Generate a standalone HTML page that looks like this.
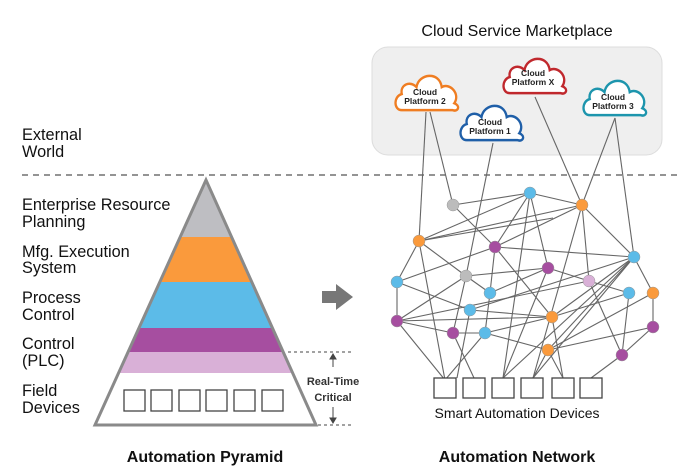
<!DOCTYPE html>
<html><head><meta charset="utf-8"><style>
body{margin:0;background:#fff;}
svg{display:block;font-family:"Liberation Sans",Arial,sans-serif;}
</style></head><body>
<svg width="700" height="474" viewBox="0 0 700 474" xmlns="http://www.w3.org/2000/svg">
<defs>
<path id="cl" d="M-24,14 C-32,14 -32,2 -24,0 C-26,-8 -16,-12 -10,-6 C-8,-18 12,-20 14,-6 C22,-10 32,0 26,8 C32,10 30,16 24,14 Z"/>
</defs>
<text x="517" y="36" font-size="16" text-anchor="middle" fill="#111">Cloud Service Marketplace</text>
<rect x="372" y="47" width="290" height="108" rx="16" fill="#efefef" stroke="#dcdcdc"/>
<g font-size="16.3" fill="#111">
<text x="22" y="140">External</text><text x="22" y="157">World</text>
<text x="22" y="210">Enterprise Resource</text><text x="22" y="227">Planning</text>
<text x="22" y="257">Mfg. Execution</text><text x="22" y="273">System</text>
<text x="22" y="303">Process</text><text x="22" y="320">Control</text>
<text x="22" y="349">Control</text><text x="22" y="366">(PLC)</text>
<text x="22" y="396">Field</text><text x="22" y="413">Devices</text>
</g>
<line x1="22" y1="175" x2="682" y2="175" stroke="#555" stroke-width="1.3" stroke-dasharray="6,5"/>
<defs><clipPath id="pc"><polygon points="206,180 95,425 316,425"/></clipPath></defs>
<g clip-path="url(#pc)">
<rect x="90" y="180" width="230" height="57" fill="#bebec2"/>
<rect x="90" y="237" width="230" height="45" fill="#fa9a3c"/>
<rect x="90" y="282" width="230" height="46" fill="#5cbbe8"/>
<rect x="90" y="328" width="230" height="24" fill="#a64ea0"/>
<rect x="90" y="352" width="230" height="21" fill="#d9b0d7"/>
<rect x="90" y="373" width="230" height="55" fill="#fff"/>
</g>
<polygon points="206,180 95,425 316,425" fill="none" stroke="#8a8a8a" stroke-width="3"/>
<g fill="none" stroke="#444" stroke-width="1.3">
<rect x="124" y="390" width="21" height="21"/><rect x="151" y="390" width="21" height="21"/><rect x="179" y="390" width="21" height="21"/><rect x="206" y="390" width="21" height="21"/><rect x="234" y="390" width="21" height="21"/><rect x="262" y="390" width="21" height="21"/>
</g>
<g stroke="#444" stroke-width="1" stroke-dasharray="3,3">
<line x1="288" y1="352" x2="352" y2="352"/><line x1="318" y1="425" x2="352" y2="425"/>
</g>
<g stroke="#444" stroke-width="1" fill="#444">
<line x1="333" y1="356" x2="333" y2="367"/><polygon points="333,354 330,359 336,359"/>
<line x1="333" y1="407" x2="333" y2="420"/><polygon points="333,423 330,418 336,418"/>
</g>
<text x="333" y="385" font-size="11" font-weight="bold" fill="#333" text-anchor="middle">Real-Time</text>
<text x="333" y="401" font-size="11" font-weight="bold" fill="#333" text-anchor="middle">Critical</text>
<polygon points="322,291 336,291 336,284 353,297 336,310 336,303 322,303" fill="#777"/>
<g stroke="#666" stroke-width="1.1">
<line x1="426" y1="112" x2="419" y2="241"/><line x1="430" y1="112" x2="453" y2="205"/>
<line x1="493" y1="143" x2="466" y2="276"/><line x1="535" y1="97" x2="582" y2="205"/>
<line x1="615" y1="118" x2="582" y2="205"/><line x1="615" y1="118" x2="634" y2="257"/>
<line x1="453" y1="205" x2="530" y2="193"/><line x1="453" y1="205" x2="495" y2="247"/>
<line x1="419" y1="241" x2="530" y2="193"/><line x1="419" y1="241" x2="582" y2="205"/>
<line x1="419" y1="241" x2="397" y2="282"/>
<line x1="419" y1="241" x2="466" y2="276"/><line x1="419" y1="241" x2="445" y2="380"/>
<line x1="419" y1="241" x2="553" y2="218"/>
<line x1="530" y1="193" x2="582" y2="205"/><line x1="530" y1="193" x2="495" y2="247"/>
<line x1="530" y1="193" x2="548" y2="268"/><line x1="530" y1="193" x2="503" y2="378"/>
<line x1="582" y1="205" x2="495" y2="247"/><line x1="582" y1="205" x2="589" y2="281"/>
<line x1="582" y1="205" x2="634" y2="257"/><line x1="582" y1="205" x2="533" y2="378"/>
<line x1="495" y1="247" x2="634" y2="257"/><line x1="495" y1="247" x2="552" y2="317"/>
<line x1="495" y1="247" x2="490" y2="293"/><line x1="495" y1="247" x2="397" y2="282"/>
<line x1="634" y1="257" x2="653" y2="293"/><line x1="634" y1="257" x2="470" y2="310"/>
<line x1="634" y1="257" x2="552" y2="317"/><line x1="634" y1="257" x2="503" y2="378"/>
<line x1="634" y1="257" x2="533" y2="378"/><line x1="634" y1="257" x2="548" y2="350"/>
<line x1="466" y1="276" x2="548" y2="268"/><line x1="466" y1="276" x2="490" y2="293"/>
<line x1="466" y1="276" x2="397" y2="321"/><line x1="466" y1="276" x2="453" y2="333"/>
<line x1="548" y1="268" x2="490" y2="293"/><line x1="548" y1="268" x2="589" y2="281"/>
<line x1="548" y1="268" x2="503" y2="378"/>
<line x1="397" y1="282" x2="470" y2="310"/><line x1="397" y1="282" x2="397" y2="321"/>
<line x1="589" y1="281" x2="629" y2="293"/><line x1="589" y1="281" x2="622" y2="355"/>
<line x1="589" y1="281" x2="397" y2="321"/>
<line x1="490" y1="293" x2="485" y2="333"/>
<line x1="629" y1="293" x2="552" y2="317"/><line x1="629" y1="293" x2="622" y2="355"/>
<line x1="653" y1="293" x2="548" y2="350"/><line x1="653" y1="293" x2="653" y2="327"/>
<line x1="470" y1="310" x2="552" y2="317"/><line x1="470" y1="310" x2="457" y2="378"/>
<line x1="552" y1="317" x2="485" y2="333"/><line x1="552" y1="317" x2="563" y2="378"/>
<line x1="397" y1="321" x2="453" y2="333"/><line x1="397" y1="321" x2="445" y2="380"/>
<line x1="397" y1="321" x2="552" y2="317"/>
<line x1="453" y1="333" x2="485" y2="333"/><line x1="453" y1="333" x2="474" y2="378"/>
<line x1="485" y1="333" x2="445" y2="380"/><line x1="485" y1="333" x2="548" y2="350"/>
<line x1="653" y1="327" x2="548" y2="350"/><line x1="653" y1="327" x2="622" y2="355"/>
<line x1="622" y1="355" x2="591" y2="378"/>
<line x1="548" y1="350" x2="533" y2="378"/><line x1="548" y1="350" x2="563" y2="378"/>
</g>
<g stroke="#999" stroke-width="0.5">
<circle cx="453" cy="205" r="6" fill="#bcbcbc"/>
<circle cx="530" cy="193" r="6" fill="#5cbbe8"/>
<circle cx="582" cy="205" r="6" fill="#fa9a3c"/>
<circle cx="419" cy="241" r="6" fill="#fa9a3c"/>
<circle cx="495" cy="247" r="6" fill="#a64ea0"/>
<circle cx="634" cy="257" r="6" fill="#5cbbe8"/>
<circle cx="466" cy="276" r="6" fill="#bcbcbc"/>
<circle cx="548" cy="268" r="6" fill="#a64ea0"/>
<circle cx="397" cy="282" r="6" fill="#5cbbe8"/>
<circle cx="589" cy="281" r="6" fill="#d9b0d7"/>
<circle cx="490" cy="293" r="6" fill="#5cbbe8"/>
<circle cx="629" cy="293" r="6" fill="#5cbbe8"/>
<circle cx="653" cy="293" r="6" fill="#fa9a3c"/>
<circle cx="470" cy="310" r="6" fill="#5cbbe8"/>
<circle cx="552" cy="317" r="6" fill="#fa9a3c"/>
<circle cx="397" cy="321" r="6" fill="#a64ea0"/>
<circle cx="453" cy="333" r="6" fill="#a64ea0"/>
<circle cx="485" cy="333" r="6" fill="#5cbbe8"/>
<circle cx="653" cy="327" r="6" fill="#a64ea0"/>
<circle cx="548" cy="350" r="6" fill="#fa9a3c"/>
<circle cx="622" cy="355" r="6" fill="#a64ea0"/>
</g>
<g fill="#fff" stroke="#444" stroke-width="1.3">
<rect x="434" y="378" width="22" height="20"/><rect x="463" y="378" width="22" height="20"/><rect x="492" y="378" width="22" height="20"/><rect x="521" y="378" width="22" height="20"/><rect x="552" y="378" width="22" height="20"/><rect x="580" y="378" width="22" height="20"/>
</g>
<text x="517" y="418" font-size="14" text-anchor="middle" fill="#111">Smart Automation Devices</text>
<g fill="#fff" stroke-width="2.2">
<use href="#cl" transform="translate(427,94) scale(1.05,1.15)" stroke="#ef7d22"/>
<use href="#cl" transform="translate(492,124) scale(1.05,1.15)" stroke="#1f5fa8"/>
<use href="#cl" transform="translate(535,77) scale(1.05,1.15)" stroke="#c0282d"/>
<use href="#cl" transform="translate(615,99) scale(1.05,1.15)" stroke="#1d95ad"/>
</g>
<g font-size="8.5" font-weight="bold" fill="#222" text-anchor="middle">
<text x="425" y="95">Cloud</text><text x="425" y="104">Platform 2</text>
<text x="490" y="125">Cloud</text><text x="490" y="134">Platform 1</text>
<text x="533" y="76">Cloud</text><text x="533" y="85">Platform X</text>
<text x="613" y="100">Cloud</text><text x="613" y="109">Platform 3</text>
</g>
<text x="205" y="462" font-size="16" font-weight="bold" text-anchor="middle" fill="#111">Automation Pyramid</text>
<text x="517" y="462" font-size="16" font-weight="bold" text-anchor="middle" fill="#111">Automation Network</text>
</svg>
</body></html>
